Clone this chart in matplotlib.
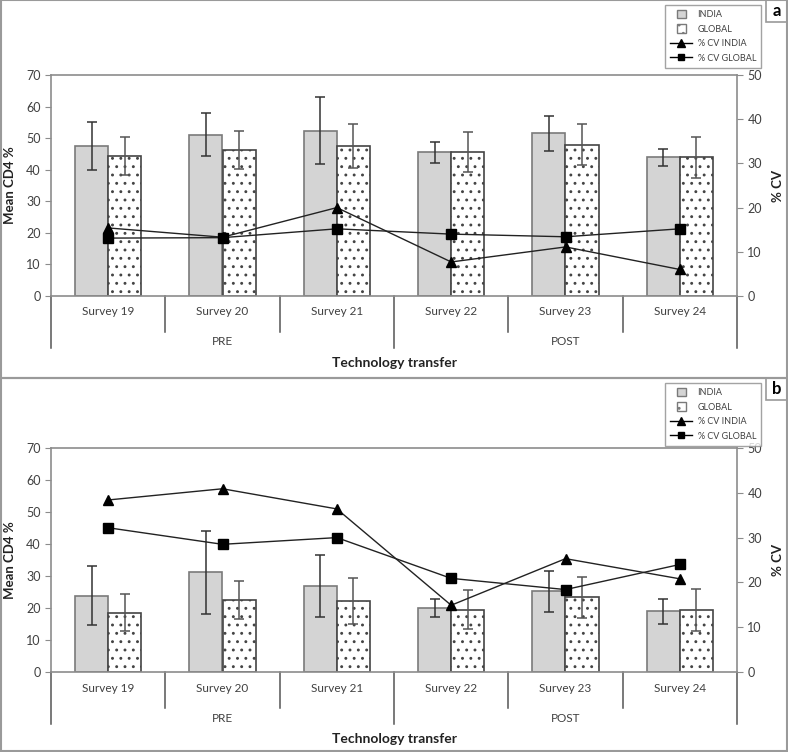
import matplotlib.pyplot as plt
from matplotlib.patches import Patch, Rectangle
from matplotlib.lines import Line2D
from matplotlib.legend_handler import HandlerPatch

plt.rcParams['font.family'] = ['Lato', 'DejaVu Sans']
plt.rcParams['hatch.linewidth'] = 0.9

surveys = ['Survey 19', 'Survey 20', 'Survey 21', 'Survey 22', 'Survey 23', 'Survey 24']
groups = ['PRE', 'POST']

# panel a
a_india = [47.5, 51.1, 52.3, 45.5, 51.5, 43.9]
a_india_err = [7.5, 6.9, 10.6, 3.4, 5.6, 2.6]
a_global = [44.3, 46.2, 47.5, 45.5, 47.9, 43.9]
a_global_err = [6.0, 6.1, 7.0, 6.3, 6.5, 6.6]
a_cv_india = [15.4, 13.3, 20.0, 7.7, 11.1, 6.0]
a_cv_global = [13.1, 13.2, 15.2, 14.0, 13.4, 15.2]

# panel b
b_india = [23.8, 31.1, 26.9, 20.0, 25.2, 19.0]
b_india_err = [9.2, 12.9, 9.7, 2.9, 6.5, 3.9]
b_global = [18.5, 22.5, 22.1, 19.4, 23.3, 19.4]
b_global_err = [5.8, 5.9, 7.2, 6.1, 6.4, 6.5]
b_cv_india = [38.4, 40.9, 36.4, 14.9, 25.3, 20.8]
b_cv_global = [32.2, 28.5, 30.0, 20.9, 18.4, 24.0]

W, H = 788, 752
fig = plt.figure(figsize=(W / 100, H / 100), dpi=100)

GRAY = '#8c8c8c'
TXT = '#404040'


def fx(x):
    return x / W


def fy(y):
    return 1 - y / H


def small_square(legend, orig_handle, xdescent, ydescent, width, height, fontsize):
    s = height * 1.05
    return Rectangle(((width - s) / 2 - xdescent, (height - s) / 2 - ydescent), s, s)


def panel(top, bottom, india, india_err, glob, glob_err, cv_india, cv_global, tag, panel_top, panel_bot):
    left, right = 51, 737
    ax = fig.add_axes([fx(left), fy(bottom), (right - left) / W, (bottom - top) / H])
    h_px = bottom - top
    x = list(range(len(surveys)))
    bw = 0.29
    ax.bar([i - bw / 2 for i in x], india, bw, color='#d4d4d4', edgecolor='#7a7a7a', lw=1.2, zorder=2)
    ax.bar([i + bw / 2 for i in x], glob, bw, color='white', edgecolor='#444444', lw=1.2,
           hatch='..', zorder=2)
    ax.errorbar([i - bw / 2 for i in x], india, yerr=india_err, fmt='none', ecolor='#333333',
                elinewidth=1.1, capsize=3.5, capthick=1.1, zorder=3)
    ax.errorbar([i + bw / 2 for i in x], glob, yerr=glob_err, fmt='none', ecolor='#555555',
                elinewidth=1.1, capsize=3.5, capthick=1.1, zorder=3)
    ax.set_xlim(-0.5, len(surveys) - 0.5)
    ax.set_ylim(0, 70)
    ax.set_yticks(range(0, 71, 10))
    ax.set_xticks([])
    for s in ['left', 'top', 'bottom']:
        ax.spines[s].set_color(GRAY)
        ax.spines[s].set_linewidth(1.2)
    ax.spines['right'].set_visible(False)
    ax.tick_params(axis='y', direction='out', length=4, color=GRAY, labelcolor=TXT, labelsize=9)
    ax.set_ylabel('Mean CD4 %', fontweight='bold', fontsize=9.5, color='#222222')
    ax.yaxis.set_label_coords(-(left - 16) / (right - left), 0.5)

    ax2 = ax.twinx()
    ax2.set_ylim(0, 50)
    ax2.set_yticks(range(0, 51, 10))
    ax2.plot(x, cv_india, color='#222222', lw=1.0, marker='^', ms=7, mfc='black', mec='black', zorder=4)
    ax2.plot(x, cv_global, color='#222222', lw=1.0, marker='s', ms=6.5, mfc='black', mec='black', zorder=4)
    for s in ['left', 'top', 'bottom']:
        ax2.spines[s].set_visible(False)
    ax2.spines['right'].set_color(GRAY)
    ax2.spines['right'].set_linewidth(1.2)
    ax2.tick_params(axis='y', direction='out', length=4, color=GRAY, labelcolor=TXT, labelsize=9)
    ax2.set_ylabel('% CV', fontweight='bold', fontsize=9.5, color='#222222')
    ax2.yaxis.set_label_coords(1 + (772 - right) / (right - left), 0.5)

    # category axis below the plot
    tr = ax.get_xaxis_transform()
    short = -36 / h_px
    long_ = -52 / h_px
    for i in range(len(surveys) + 1):
        xb = i - 0.5
        y_end = long_ if i in (0, 3, len(surveys)) else short
        ax.add_line(Line2D([xb, xb], [0, y_end], transform=tr, color='#555555', lw=1.1, clip_on=False))
    for i, s in enumerate(surveys):
        ax.text(i, -16 / h_px, s, transform=tr, ha='center', va='center', fontsize=8.5, color=TXT)
    for g, xc in zip(groups, [1, 4]):
        ax.text(xc, -46 / h_px, g, transform=tr, ha='center', va='center', fontsize=8.5, color=TXT)
    ax.text(2.5, -67 / h_px, 'Technology transfer', transform=tr, ha='center', va='center',
            fontsize=10, fontweight='bold', color='#222222')

    # legend
    india_patch = Patch(facecolor='#d4d4d4', edgecolor='#7a7a7a')
    global_patch = Patch(facecolor='white', edgecolor='#7a7a7a', hatch='..')
    handles = [
        india_patch,
        global_patch,
        Line2D([], [], color='black', lw=1, marker='^', ms=5.5),
        Line2D([], [], color='black', lw=1, marker='s', ms=5),
    ]
    labels = ['INDIA', 'GLOBAL', '% CV INDIA', '% CV GLOBAL']
    fig.legend(handles, labels, loc='upper right', bbox_to_anchor=(fx(761), fy(panel_top + 5)),
               fontsize=6.5, frameon=True, fancybox=False, edgecolor=GRAY, labelcolor=TXT,
               handlelength=2.4, handleheight=1.0, labelspacing=0.6, borderpad=0.55,
               handletextpad=0.6, borderaxespad=0,
               handler_map={india_patch: HandlerPatch(patch_func=small_square),
                            global_patch: HandlerPatch(patch_func=small_square)})

    # panel frame and tag
    fig.add_artist(Rectangle((fx(1), fy(panel_bot)), fx(786), (panel_bot - panel_top) / H,
                             transform=fig.transFigure, fill=False, edgecolor='#9a9a9a', lw=1.5))
    fig.add_artist(Rectangle((fx(766), fy(panel_top + 22)), fx(21), 22 / H,
                             transform=fig.transFigure, fill=False, edgecolor='#9a9a9a', lw=1.2))
    fig.text(fx(777), fy(panel_top + 11), tag, ha='center', va='center', fontsize=12,
             fontweight='bold', color='black')


panel(75, 296, a_india, a_india_err, a_global, a_global_err, a_cv_india, a_cv_global, 'a', 0, 378)
panel(448, 672, b_india, b_india_err, b_global, b_global_err, b_cv_india, b_cv_global, 'b', 378, 751)

fig.savefig('out.png', dpi=100)
